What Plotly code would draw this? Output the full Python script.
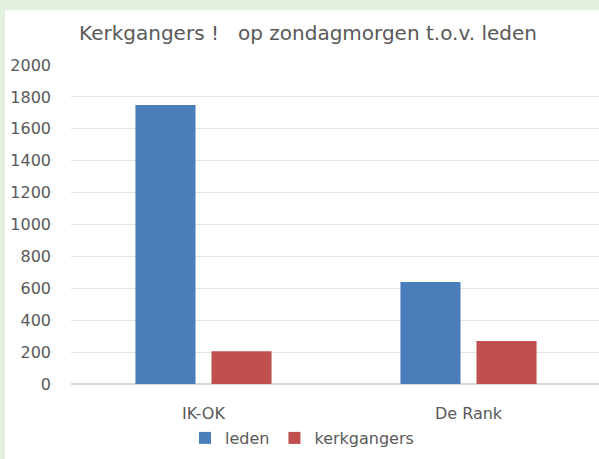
import plotly.graph_objects as go

categories = ["IK-OK", "De Rank"]
leden = [1750, 640]
kerkgangers = [205, 270]
y_ticks = [0, 200, 400, 600, 800, 1000, 1200, 1400, 1600, 1800, 2000]

FONT = "DejaVu Sans"
TXT = "#595959"

fig = go.Figure()
fig.add_trace(go.Bar(name="leden", x=categories, y=leden, marker_color="#4a7ebb",
                     marker_line_width=0))
fig.add_trace(go.Bar(name="kerkgangers", x=categories, y=kerkgangers, marker_color="#c0504d",
                     marker_line_width=0))

W, H = 599, 459
L, R, T, B = 71, 0, 65, 75
pw, ph = W - L - R, H - T - B

def px_to_paper_x(px):
    return (px - L) / pw

def px_to_paper_y(py):
    return (H - B - py) / ph

fig.add_shape(type="rect", xref="paper", yref="paper",
              x0=px_to_paper_x(5), x1=px_to_paper_x(620),
              y0=px_to_paper_y(480), y1=px_to_paper_y(10),
              fillcolor="white", line_width=0, layer="below")

fig.update_layout(
    width=W, height=H,
    margin=dict(l=L, r=R, t=T, b=B, autoexpand=False),
    paper_bgcolor="#e4f0df",
    plot_bgcolor="white",
    barmode="group",
    bargap=0.426,
    bargroupgap=0.21,
    font=dict(family=FONT, color=TXT, size=16),
    title=dict(text="Kerkgangers !   op zondagmorgen t.o.v. leden",
               x=308 / W, xanchor="center", xref="container",
               y=1 - 33 / H, yanchor="middle", yref="container",
               font=dict(family=FONT, size=20, color=TXT)),
    legend=dict(orientation="h", x=px_to_paper_x(185), xanchor="left",
                y=px_to_paper_y(438), yanchor="middle",
                font=dict(family=FONT, size=16, color=TXT),
                bgcolor="rgba(0,0,0,0)", itemwidth=30),
    xaxis=dict(range=[-0.5, -0.5 + pw / 265], showgrid=False, showline=False,
               zeroline=False, ticks="", ticklabelstandoff=18,
               tickfont=dict(family=FONT, size=16, color=TXT)),
    yaxis=dict(range=[0, 2000], tickvals=y_ticks, showgrid=True, gridcolor="#e3e3e3",
               gridwidth=1, zeroline=True, zerolinecolor="#d9d9d9", showline=False,
               ticks="", ticklabelstandoff=19,
               tickfont=dict(family=FONT, size=16, color=TXT)),
)

fig.write_html("out.html", config={"displayModeBar": False},
               post_script="document.body.style.margin='0';document.body.style.overflow='hidden';")
